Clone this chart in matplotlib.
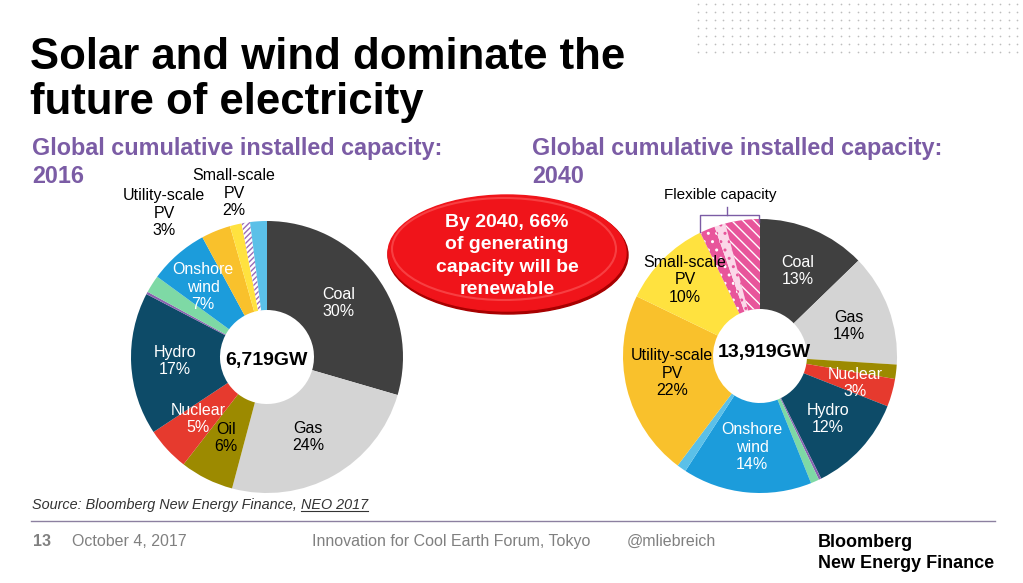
import numpy as np
import matplotlib
matplotlib.use("Agg")
import matplotlib.pyplot as plt
from matplotlib.patches import Ellipse

plt.rcParams['font.family'] = ['Liberation Sans', 'DejaVu Sans']

W, H = 1023, 583

# ---- data ----
# 2016, clockwise from 12 o'clock
names_2016 = ['Coal', 'Gas', 'Oil', 'Nuclear', 'Hydro', 'Other', 'Offshore wind',
              'Onshore wind', 'Utility-scale PV', 'Small-scale PV', 'Flexible', 'Other RE']
share_2016 = [29.6, 24.7, 6.4, 5.2, 17.0, 0.3, 2.1, 7.1, 3.5, 1.4, 1.0, 2.0]
total_2016 = '6,719GW'

# 2040, clockwise from 12 o'clock
names_2040 = ['Coal', 'Gas', 'Oil', 'Nuclear', 'Hydro', 'Other', 'Offshore wind',
              'Onshore wind', 'Other RE', 'Utility-scale PV', 'Small-scale PV',
              'Flex 1', 'Flex 2', 'Flex 3']
share_2040 = [12.8, 13.3, 1.7, 3.3, 11.7, 0.3, 1.0, 15.3, 1.1, 22.0, 10.7, 1.8, 1.3, 4.1]
total_2040 = '13,919GW'

colors = {
    'Coal': '#404040', 'Gas': '#D4D4D4', 'Oil': '#9C8A00', 'Nuclear': '#E63A2E',
    'Hydro': '#0D4B68', 'Other': '#8A63B0', 'Offshore wind': '#7ED9A5',
    'Onshore wind': '#1C9CDB', 'Utility-scale PV': '#F9C12C', 'Small-scale PV': '#FFE23F',
    'Other RE': '#5BC0E8', 'Flexible': 'white', 'Flex 1': '#E8559B', 'Flex 2': '#FBD7E8',
    'Flex 3': '#E8559B',
}
# hatch, hatch colour
hatches = {'Flexible': ('//////', '#9A6BB8'), 'Flex 1': ('..', 'white'),
           'Flex 2': ('..', '#E8559B'), 'Flex 3': ('\\\\\\', 'white')}

# label text and where it sits (pixel coords on the slide), text colour
labels_2016 = [('Coal\n30%', 339, 303, 'white'), ('Gas\n24%', 308, 437, 'black'),
               ('Oil\n6%', 226, 438, 'black'), ('Nuclear\n5%', 198, 419, 'white'),
               ('Hydro\n17%', 175, 361, 'white'), ('Onshore\nwind\n7%', 203, 287, 'white'),
               ('Utility-scale\nPV\n3%', 164, 213, 'black'),
               ('Small-scale\nPV\n2%', 234, 193, 'black')]
labels_2040 = [('Coal\n13%', 798, 271, 'white'), ('Gas\n14%', 849, 326, 'black'),
               ('Nuclear\n3%', 855, 383, 'white'), ('Hydro\n12%', 828, 419, 'white'),
               ('Onshore\nwind\n14%', 752, 447, 'white'),
               ('Utility-scale\nPV\n22%', 672, 373, 'black'),
               ('Small-scale\nPV\n10%', 685, 280, 'black')]


def Y(y):
    return H - y


fig = plt.figure(figsize=(W / 100, H / 100), dpi=100)
ax = fig.add_axes([0, 0, 1, 1])


def donut(shares, names, cx, cy, r_out, r_in):
    wedges, _ = ax.pie(shares, colors=[colors[n] for n in names], startangle=90,
                       counterclock=False, center=(cx, Y(cy)), radius=r_out,
                       wedgeprops=dict(width=r_out - r_in, linewidth=0), frame=True)
    for w, n in zip(wedges, names):
        if n in hatches:
            w.set_hatch(hatches[n][0])
            w.set_edgecolor(hatches[n][1])
            w.set_linewidth(0)


donut(share_2016, names_2016, 267, 357, 136, 47)
donut(share_2040, names_2040, 760, 356, 137, 47)

for txt, x, y, c in labels_2016 + labels_2040:
    ax.text(x, Y(y), txt, ha='center', va='center', color=c, fontsize=11.5,
            linespacing=1.18)
ax.text(266, Y(360), total_2016, ha='center', va='center', fontsize=14, weight='bold')
ax.text(764, Y(353), total_2040, ha='center', va='center', fontsize=14, weight='bold')

# flexible capacity bracket
ax.plot([700, 700, 759, 759], [Y(232), Y(215), Y(215), Y(222)], color='#7B5CA5', lw=1)
ax.plot([727, 727], [Y(215), Y(207)], color='#7B5CA5', lw=1)
ax.text(720, Y(195), 'Flexible capacity', ha='center', va='center', fontsize=11)

# red callout
ax.add_patch(Ellipse((508, Y(255)), 240, 118, color='#A80000'))
ax.add_patch(Ellipse((507, Y(253)), 238, 116, color='#F0141A'))
ax.add_patch(Ellipse((504, Y(249)), 224, 102, facecolor='none', edgecolor='#FF6A6A',
                     lw=1.5, alpha=0.5))
ax.text(507, Y(256), 'By 2040, 66%\nof generating\ncapacity will be\nrenewable',
        ha='center', va='center', color='white', fontsize=14, weight='bold',
        linespacing=1.4)

# dot grid, top right
gx, gy = np.meshgrid(np.arange(698, 1020, 8.4), np.arange(4, 56, 8))
ax.scatter(gx.ravel(), Y(gy.ravel()), s=1.5, color='#BDBDBD', linewidths=0)

ax.set_xlim(0, W)
ax.set_ylim(0, H)
ax.set_aspect('equal')
ax.axis('off')

# titles
ax.text(30, Y(69), 'Solar and wind dominate the', fontsize=31.5, weight='bold', va='baseline')
ax.text(30, Y(114), 'future of electricity', fontsize=31.5, weight='bold', va='baseline')
purple = '#7B5CA5'
for x0, yr in [(32, '2016'), (532, '2040')]:
    ax.text(x0, Y(155), 'Global cumulative installed capacity:', fontsize=16.8,
            weight='bold', color=purple, va='baseline')
    ax.text(x0, Y(183), yr, fontsize=16.8, weight='bold', color=purple, va='baseline')

# source + footer
src = ax.text(32, Y(509), 'Source: Bloomberg New Energy Finance, ', fontsize=10.4,
              style='italic', color='#333333', va='baseline')
fig.canvas.draw()
bb = src.get_window_extent()
neo = ax.text(bb.x1, Y(509), 'NEO 2017', fontsize=10.4, style='italic', color='#333333',
              va='baseline')
fig.canvas.draw()
nb = neo.get_window_extent()
ax.plot([nb.x0, nb.x1], [Y(511), Y(511)], color='#333333', lw=0.8)

ax.plot([31, 995], [Y(521), Y(521)], color='#8C80A0', lw=1)
foot = '#808080'
ax.text(33, Y(546), '13', fontsize=11.5, color=foot, weight='bold', va='baseline')
ax.text(72, Y(546), 'October 4, 2017', fontsize=11.5, color=foot, va='baseline')
ax.text(312, Y(546), 'Innovation for Cool Earth Forum, Tokyo', fontsize=11.5, color=foot,
        va='baseline')
ax.text(627, Y(546), '@mliebreich', fontsize=11.5, color=foot, va='baseline')
ax.text(818, Y(547), 'Bloomberg', fontsize=13, weight='bold', va='baseline')
ax.text(818, Y(568), 'New Energy Finance', fontsize=13, weight='bold', va='baseline')

fig.savefig('out.png', dpi=100)
